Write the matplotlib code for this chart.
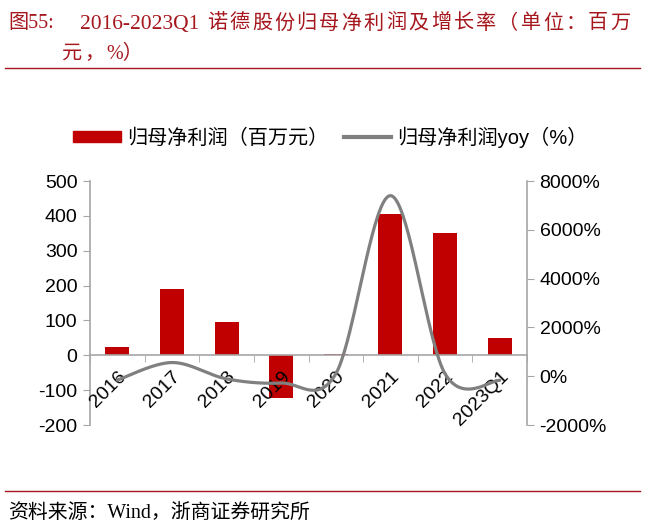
import numpy as np
import matplotlib
matplotlib.use("Agg")
import matplotlib.pyplot as plt
from matplotlib.lines import Line2D
from matplotlib.patches import Patch

plt.rcParams['font.family'] = ['Liberation Sans', 'Noto Sans CJK SC', 'DejaVu Sans']
plt.rcParams['axes.unicode_minus'] = False

# data
categories = ["2016", "2017", "2018", "2019", "2020", "2021", "2022", "2023Q1"]
net_profit = [25, 190, 96, -122, 5, 405, 352, 50]          # 百万元
profit_yoy = [-160, 560, -110, -280, 100, 7400, 100, -170]  # %

left_ticks = [-200, -100, 0, 100, 200, 300, 400, 500]
right_ticks = [-2000, 0, 2000, 4000, 6000, 8000]

RED = "#C00000"
GREY = "#808080"
AXIS = "#A6A6A6"
TITLE_RED = "#A5161D"
W, H = 664, 530


def smooth_curve(x, y, steps=40):
    """Excel style smoothed line (Catmull-Rom bezier through the points)."""
    P = np.column_stack([np.asarray(x, float), np.asarray(y, float)])
    n = len(P)
    xs, ys = [], []
    t = np.linspace(0, 1, steps)[:, None]
    for i in range(n - 1):
        p0 = P[max(i - 1, 0)]
        p1, p2 = P[i], P[i + 1]
        p3 = P[min(i + 2, n - 1)]
        c1 = p1 + (p2 - p0) / 6
        c2 = p2 - (p3 - p1) / 6
        pts = ((1 - t) ** 3) * p1 + 3 * ((1 - t) ** 2) * t * c1 + 3 * (1 - t) * t ** 2 * c2 + t ** 3 * p2
        xs.extend(pts[:, 0])
        ys.extend(pts[:, 1])
    return np.array(xs), np.array(ys)


def spaced_text(x_px, y_px, s, adv, **kw):
    # full width chars placed one by one, like the wide spacing of the original
    for i, ch in enumerate(s):
        fig.text((x_px + i * adv) / W, 1 - y_px / H, ch, va='center', **kw)


fig = plt.figure(figsize=(W / 100, H / 100), dpi=100)

# title block
serif = ['Liberation Serif', 'Noto Sans CJK SC']
tkw = dict(fontsize=14.5, color=TITLE_RED, family=serif)
fig.text(8 / W, 1 - 24 / H, "图55:", va='center', **tkw)
fig.text(80 / W, 1 - 24 / H, "2016-2023Q1", va='center', fontsize=15.5,
         color=TITLE_RED, family=serif)
spaced_text(207, 24, "诺德股份归母净利润及增长率（单位：百万", 22.4, **tkw)
spaced_text(62, 54, "元，", 22.5, **tkw)
fig.text(106 / W, 1 - 54 / H, "%）", va='center', **tkw)
fig.add_artist(Line2D([5 / W, 640 / W], [1 - 67.5 / H] * 2, color=TITLE_RED, lw=1.0))
fig.add_artist(Line2D([5 / W, 640 / W], [1 - 491 / H] * 2, color=TITLE_RED, lw=1.0))
fig.text(8 / W, 1 - 513 / H, "资料来源：Wind，浙商证券研究所", fontsize=14.3, color="black",
         family=serif, va='center')

ax = fig.add_axes([90 / W, 1 - 425 / H, 437 / W, 244 / H])
x = np.arange(len(categories))
ax.bar(x, net_profit, width=0.44, color=RED, zorder=2)
ax.set_axisbelow(False)
ax.set_xlim(-0.5, len(categories) - 0.5)
ax.set_ylim(-200, 500)
ax.set_yticks(left_ticks)
ax.tick_params(axis='y', labelsize=14, color=AXIS, length=5, direction='out', pad=4)

for s in ['top', 'right']:
    ax.spines[s].set_visible(False)
ax.spines['left'].set_color(AXIS)
ax.spines['bottom'].set_color(AXIS)
ax.spines['bottom'].set_position(('data', 0))
ax.spines['left'].set_linewidth(1.2)
ax.spines['bottom'].set_linewidth(1.2)

ax.set_xticks(x)
ax.set_xticklabels(categories, rotation=45, ha='right', rotation_mode='anchor', fontsize=14)
ax.set_xticks(np.arange(len(categories) + 1) - 0.5, minor=True)
ax.tick_params(axis='x', which='major', length=0, pad=9)
ax.tick_params(axis='x', which='minor', length=5, color=AXIS, direction='out')

ax2 = ax.twinx()
sx, sy = smooth_curve(x, profit_yoy)
ax2.plot(sx, sy, color=GREY, lw=2.3, zorder=3, solid_capstyle='round')
ax2.set_ylim(-2000, 8000)
ax2.set_yticks(right_ticks)
ax2.set_yticklabels([f"{v}%" for v in right_ticks])
ax2.tick_params(axis='y', labelsize=14, color=AXIS, length=5, direction='out', pad=4)
for s in ['top', 'left', 'bottom']:
    ax2.spines[s].set_visible(False)
ax2.spines['right'].set_color(AXIS)
ax2.spines['right'].set_linewidth(1.2)

handles = [Patch(color=RED), Line2D([0], [0], color=GREY, lw=3)]
labels = ["归母净利润（百万元）", "归母净利润yoy（%）"]
fig.legend(handles, labels, loc='center', bbox_to_anchor=(330.5 / W, 1 - 137 / H), ncol=2,
           frameon=False, handlelength=2.35, handleheight=0.5,
           columnspacing=0.8, handletextpad=0.3,
           prop={'family': ['Liberation Sans', 'Noto Sans CJK SC'], 'size': 14.5})

fig.savefig("out.png", dpi=100)
